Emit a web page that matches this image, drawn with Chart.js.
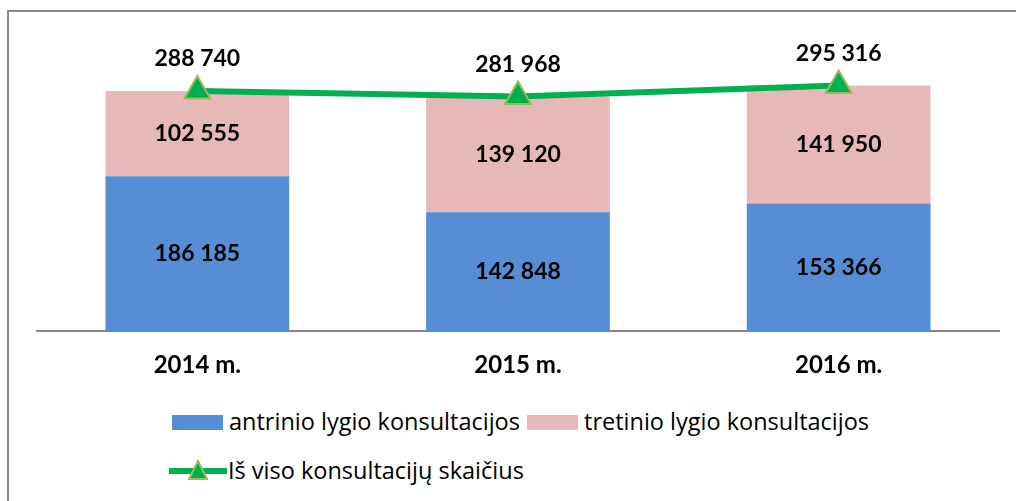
<!DOCTYPE html>
<html>
<head>
<meta charset="utf-8">
<script src="https://cdn.jsdelivr.net/npm/chart.js@4"></script>
<style>
  body { margin: 0; background: #fff; width: 1016px; height: 501px; overflow: hidden; position: relative; font-family: "Open Sans", Lato, sans-serif; }
  #frame { position: absolute; left: 7px; top: 10px; width: 1100px; height: 600px; border: 2px solid #878787; box-sizing: border-box; }
  #wrap { position: absolute; left: 0; top: 0; width: 1016px; height: 400px; }
  .legend { position: absolute; font-size: 23.5px; line-height: 28px; color: #000; white-space: nowrap; }
  .sw { position: absolute; width: 51px; height: 15px; }
</style>
</head>
<body>
<div id="frame"></div>
<div id="wrap"><canvas id="chart"></canvas></div>

<div class="sw" style="left:172px; top:415px; background:#558ED5;"></div>
<div class="legend" style="left:229px; top:407px;">antrinio lygio konsultacijos</div>
<div class="sw" style="left:527px; top:415px; background:#E6B9B8;"></div>
<div class="legend" style="left:584px; top:407px;">tretinio lygio konsultacijos</div>
<svg style="position:absolute; left:169px; top:458px;" width="58" height="26">
  <line x1="1" y1="13" x2="57" y2="13" stroke="#00B050" stroke-width="6" stroke-linecap="round"/>
  <polygon points="29,3 38,21 20,21" fill="#00B050" stroke="#9BBB59" stroke-width="2"/>
</svg>
<div class="legend" style="left:228px; top:456px;">Iš viso konsultacijų skaičius</div>

<script>
const years = ["2014 m.", "2015 m.", "2016 m."];
const antrinio = [186185, 142848, 153366];
const tretinio = [102555, 139120, 141950];
const isViso = [288740, 281968, 295316];

function fmt(v) {
  return String(v).replace(/\B(?=(\d{3})+(?!\d))/g, " ");
}

// value labels inside bars and above the line points
const valueLabels = {
  id: "valueLabels",
  afterDatasetsDraw(chart) {
    const ctx = chart.ctx;
    ctx.save();
    ctx.fillStyle = "#000";
    ctx.font = "bold 23px Lato, sans-serif";
    ctx.textAlign = "center";
    ctx.textBaseline = "middle";
    chart.data.datasets.forEach((ds, i) => {
      const meta = chart.getDatasetMeta(i);
      meta.data.forEach((el, j) => {
        if (ds.type === "line") {
          ctx.fillText(fmt(ds.data[j]), el.x, el.y - 32);
        } else {
          ctx.fillText(fmt(ds.data[j]), el.x, (el.y + el.base) / 2);
        }
      });
    });
    ctx.restore();
  }
};

const ctx = document.getElementById("chart").getContext("2d");
new Chart(ctx, {
  type: "bar",
  data: {
    labels: years,
    datasets: [
      {
        type: "line",
        label: "Iš viso konsultacijų skaičius",
        data: isViso,
        stack: "total",
        order: 0,
        borderColor: "#00B050",
        backgroundColor: "#00B050",
        borderWidth: 6,
        tension: 0,
        pointStyle: "triangle",
        pointRadius: 15,
        pointHoverRadius: 15,
        pointBackgroundColor: "#00B050",
        pointBorderColor: "#9BBB59",
        pointBorderWidth: 2,
      },
      {
        label: "antrinio lygio konsultacijos",
        data: antrinio,
        stack: "bars",
        order: 1,
        backgroundColor: "#558ED5",
        barPercentage: 0.573,
        categoryPercentage: 1,
      },
      {
        label: "tretinio lygio konsultacijos",
        data: tretinio,
        stack: "bars",
        order: 1,
        backgroundColor: "#E6B9B8",
        barPercentage: 0.573,
        categoryPercentage: 1,
      },
    ],
  },
  options: {
    responsive: true,
    maintainAspectRatio: false,
    animation: false,
    layout: { padding: { left: 37, right: 15, top: 40, bottom: 0 } },
    scales: {
      x: {
        stacked: true,
        grid: { display: false, drawTicks: false },
        border: { display: true, color: "#868686", width: 2 },
        ticks: { color: "#000", font: { family: "Lato", size: 24, weight: "bold" }, padding: 20 },
      },
      y: {
        stacked: true,
        display: false,
        min: 0,
        max: 350000,
      },
    },
    plugins: {
      legend: { display: false },
      tooltip: { enabled: false },
    },
  },
  plugins: [valueLabels],
});
</script>
</body>
</html>
